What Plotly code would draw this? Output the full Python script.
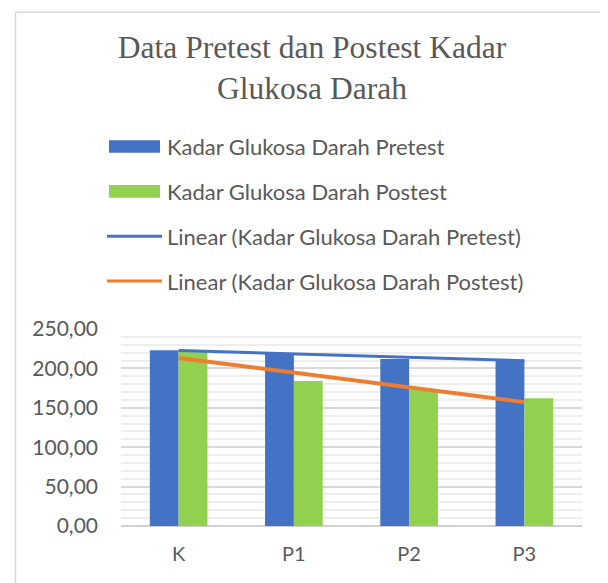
import numpy as np
import plotly.graph_objects as go

categories = ["K", "P1", "P2", "P3"]
pretest = [223.0, 219.0, 212.0, 211.0]
postest = [221.0, 184.0, 174.0, 162.0]
y_ticks = [0, 50, 100, 150, 200, 250]

names = ["Kadar Glukosa Darah Pretest", "Kadar Glukosa Darah Postest",
         "Linear (Kadar Glukosa Darah Pretest)", "Linear (Kadar Glukosa Darah Postest)"]
BLUE, GREEN, ORANGE = "#4472C4", "#92D050", "#ED7D31"
GREY = "#595959"
FONT = "Lato"

OFF = 8  # page body margin
W, H = 608 - OFF, 583 - OFF
# plot area in page pixels
PL, PR, PT, PB = 121, 582, 329, 526.5
L, R, T, B = PL - OFF, PR - OFF, PT - OFF, PB - OFF


def px(x):
    return ((x - OFF) - L) / (R - L)


def py(y):
    return (B - (y - OFF)) / (B - T)


idx = np.arange(len(categories))
trend_pre = np.polyval(np.polyfit(idx, pretest, 1), idx)
trend_post = np.polyval(np.polyfit(idx, postest, 1), idx)

fig = go.Figure()
fig.add_bar(x=categories, y=pretest, name=names[0], marker=dict(color=BLUE, line=dict(width=0)))
fig.add_bar(x=categories, y=postest, name=names[1], marker=dict(color=GREEN, line=dict(width=0)))
fig.add_scatter(x=categories, y=trend_pre, mode="lines", name=names[2], line=dict(color=BLUE, width=3))
fig.add_scatter(x=categories, y=trend_post, mode="lines", name=names[3], line=dict(color=ORANGE, width=4))

shapes = [
    dict(type="rect", xref="paper", yref="paper", x0=px(15.5), x1=px(660), y0=py(11.5), y1=py(660),
         line=dict(color="#D9D9D9", width=1.5), fillcolor="rgba(0,0,0,0)", layer="below"),
]
annotations = []
leg_y = [146, 191, 236, 281]
for i, (nm, yc) in enumerate(zip(names, leg_y)):
    if i < 2:
        shapes.append(dict(type="rect", xref="paper", yref="paper", x0=px(109), x1=px(160),
                           y0=py(yc - 6.3), y1=py(yc + 6.3), fillcolor=[BLUE, GREEN][i],
                           line=dict(width=0)))
    else:
        shapes.append(dict(type="line", xref="paper", yref="paper", x0=px(107), x1=px(162),
                           y0=py(yc), y1=py(yc), line=dict(color=[BLUE, ORANGE][i - 2], width=3)))
    annotations.append(dict(text=nm, xref="paper", yref="paper", x=px(165), y=py(yc),
                            xanchor="left", yanchor="middle", showarrow=False,
                            font=dict(family=FONT, size=22, color=GREY)))

fig.update_layout(
    width=W, height=H,
    margin=dict(l=L, r=W - R, t=T, b=H - B, pad=0),
    paper_bgcolor="white", plot_bgcolor="white",
    showlegend=False,
    barmode="group", bargap=0.5, bargroupgap=0,
    separators=", ",
    title=dict(text="Data Pretest dan Postest Kadar<br>Glukosa Darah",
               x=(312 - OFF) / W, xref="container", xanchor="center",
               y=1 - 50 / H, yref="container", yanchor="top",
               font=dict(family="Liberation Serif", size=31.5, color=GREY)),
    font=dict(family=FONT, color=GREY),
    shapes=shapes,
    annotations=annotations,
)
fig.update_xaxes(showgrid=False, showline=False, zeroline=False, ticks="",
                 tickfont=dict(family=FONT, size=20, color=GREY), ticklabelstandoff=14)
fig.update_yaxes(range=[0, 250], tickvals=y_ticks, tickformat=".2f",
                 showgrid=True, gridcolor="#D9D9D9", gridwidth=1.5,
                 minor=dict(dtick=10, tick0=0, showgrid=True, gridcolor="#EEEEEE", gridwidth=2),
                 zeroline=True, zerolinecolor="#D0D0D0", zerolinewidth=1.5,
                 showline=False, ticks="",
                 tickfont=dict(family=FONT, size=21, color=GREY), ticklabelstandoff=22)

fig.write_html("out.html")
